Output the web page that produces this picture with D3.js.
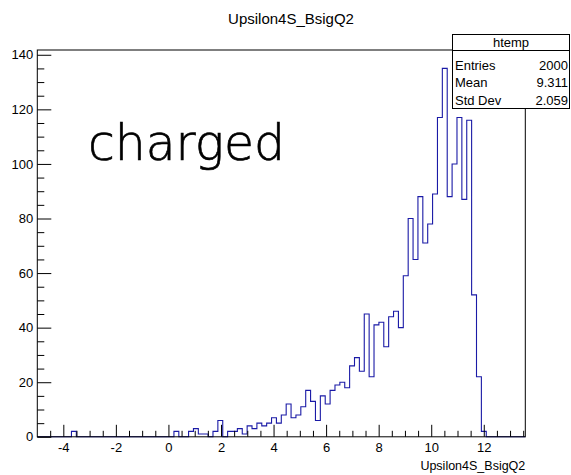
<!DOCTYPE html>
<html>
<head>
<meta charset="utf-8">
<script src="https://cdn.jsdelivr.net/npm/d3@7"></script>
<style>
  html, body { margin: 0; padding: 0; background: #fff; }
  svg { display: block; }
  text { font-family: "Liberation Sans", Arial, Helvetica, sans-serif; fill: #000; }
</style>
</head>
<body>
<svg id="chart" width="571" height="475"></svg>
<script>
// Histogram of Upsilon4S_BsigQ2: 100 equal-width bins over the axis range
const histName = "htemp";
const varName = "Upsilon4S_BsigQ2";
const axisRange = [-4.99, 13.58];
const binCounts = [
  0, 0, 0, 0, 0, 0, 0, 2, 0, 0,
  0, 0, 0, 0, 0, 0, 0, 0, 0, 0,
  0, 0, 0, 0, 0, 0, 0, 0, 2, 0,
  0, 2, 3, 1, 1, 0, 2, 6, 0, 2,
  2, 3, 1, 4, 3, 5, 4, 5, 7, 5,
  8, 12, 7, 8, 11, 17, 13, 6, 15, 12,
  17, 19, 20, 18, 26, 29, 24, 45, 22, 41,
  42, 33, 44, 46, 40, 59, 80, 65, 88, 71,
  78, 89, 117, 135, 88, 100, 117, 87, 116, 52,
  22, 2, 0, 0, 0, 0, 0, 0, 0, 0
];
const xTickValues = [-4, -2, 0, 2, 4, 6, 8, 10, 12];
const yTickValues = [0, 20, 40, 60, 80, 100, 120, 140];
const statLabels = ["Entries", "Mean", "Std Dev"];
const statValues = ["2000", "9.311", "2.059"];
const annotation = "charged";

const svg = d3.select("#chart");
const frame = { left: 37.3, right: 525.3, top: 50, bottom: 436.8 };

const nBins = binCounts.length;
const binWidth = (axisRange[1] - axisRange[0]) / nBins;
const yMax = d3.max(binCounts) * 1.05;

const x = d3.scaleLinear().domain(axisRange).range([frame.left, frame.right]);
const y = d3.scaleLinear().domain([0, yMax]).range([frame.bottom, frame.top]);

// Title
svg.append("text")
  .attr("x", 291).attr("y", 24)
  .attr("text-anchor", "middle")
  .style("font-size", "15px")
  .text(varName);

// Histogram outline (step shape)
const pts = [[axisRange[0], 0]];
binCounts.forEach((c, i) => {
  const lo = axisRange[0] + i * binWidth;
  pts.push([lo, c], [lo + binWidth, c]);
});
pts.push([axisRange[1], 0]);

svg.append("path")
  .datum(pts)
  .attr("fill", "none")
  .attr("stroke", "#1a1aa6")
  .attr("stroke-width", 1.1)
  .attr("d", d3.line().x(d => x(d[0])).y(d => y(d[1])));

// Frame
svg.append("rect")
  .attr("x", frame.left).attr("y", frame.top)
  .attr("width", frame.right - frame.left)
  .attr("height", frame.bottom - frame.top)
  .attr("fill", "none").attr("stroke", "#000").attr("stroke-width", 1);

// X axis: major ticks every 2, minor every 0.5
const xMinor = d3.range(-4.5, 13.51, 0.5).filter(v => !xTickValues.includes(v));
const xAxisMajor = d3.axisBottom(x).tickValues(xTickValues).tickSize(-12).tickPadding(6)
  .tickFormat(d3.format("d"));
const xAxisMinor = d3.axisBottom(x).tickValues(xMinor).tickSize(-6).tickFormat("");
const gx = svg.append("g").attr("transform", `translate(0,${frame.bottom})`);
const gxMajor = gx.append("g").call(xAxisMajor);
const gxMinor = gx.append("g").call(xAxisMinor);
gx.selectAll(".domain").remove();
gx.selectAll("line").attr("stroke", "#000");
gxMinor.selectAll("text").remove();
gxMajor.selectAll("text").style("font-size", "13px").attr("fill", "#000")
  .text(d => d < 0 ? "-" + Math.abs(d) : String(d));

// Y axis: major ticks every 20, minor every 5
const yMinor = d3.range(5, 141, 5).filter(v => !yTickValues.includes(v));
const yAxisMajor = d3.axisLeft(y).tickValues(yTickValues).tickSize(-14).tickPadding(4);
const yAxisMinor = d3.axisLeft(y).tickValues(yMinor).tickSize(-7).tickFormat("");
const gy = svg.append("g").attr("transform", `translate(${frame.left},0)`);
const gyMajor = gy.append("g").call(yAxisMajor);
const gyMinor = gy.append("g").call(yAxisMinor);
gy.selectAll(".domain").remove();
gy.selectAll("line").attr("stroke", "#000");
gyMinor.selectAll("text").remove();
gyMajor.selectAll("text").style("font-size", "13px").attr("fill", "#000");

// Axis title
svg.append("text")
  .attr("x", frame.right).attr("y", 470)
  .attr("text-anchor", "end")
  .style("font-size", "12.5px")
  .text(varName);

// Annotation
svg.append("text")
  .attr("x", 88).attr("y", 160)
  .attr("textLength", 197)
  .attr("lengthAdjust", "spacingAndGlyphs")
  .style("font-family", "'DejaVu Sans', sans-serif")
  .style("font-weight", "200")
  .style("font-size", "50px")
  .style("stroke", "#000")
  .style("stroke-width", "0.7px")
  .text(annotation);

// Statistics box
const box = { x: 452.5, y: 34.5, w: 117, h: 74, head: 16 };
const gs = svg.append("g");
gs.append("rect")
  .attr("x", box.x).attr("y", box.y).attr("width", box.w).attr("height", box.h)
  .attr("fill", "#fff").attr("stroke", "#000");
gs.append("line")
  .attr("x1", box.x).attr("x2", box.x + box.w)
  .attr("y1", box.y + box.head).attr("y2", box.y + box.head)
  .attr("stroke", "#000");
gs.append("text")
  .attr("x", box.x + box.w / 2).attr("y", box.y + 12.5)
  .attr("text-anchor", "middle").style("font-size", "13px")
  .text(histName);
statLabels.forEach((lab, i) => {
  const by = 69.5 + i * 17.5;
  gs.append("text").attr("x", 455).attr("y", by).style("font-size", "13px").text(lab);
  gs.append("text").attr("x", 568).attr("y", by).attr("text-anchor", "end")
    .style("font-size", "13px").text(statValues[i]);
});
</script>
</body>
</html>
